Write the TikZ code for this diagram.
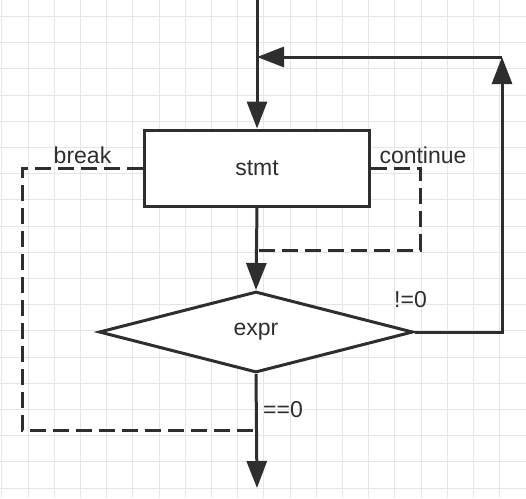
\documentclass[tikz,border=0pt]{standalone}
\usepackage{fontspec}
\setmainfont{Liberation Sans}
\usetikzlibrary{shapes.geometric, positioning, arrows.meta}
\definecolor{ink}{HTML}{2E2E2E}
\definecolor{gridgray}{HTML}{E6E6E6}

\begin{document}
\begin{tikzpicture}[x=1pt, y=-1pt, >={Triangle[length=27pt,width=20pt]},
    line/.style={ink, line width=3pt},
    jump/.style={ink, line width=3pt, dash pattern=on 16pt off 7pt},
    box/.style={draw=ink, line width=3pt, fill=white, minimum width=225pt,
        minimum height=76pt, inner sep=0pt, text=ink, font=\fontsize{23}{26}\selectfont},
    cond/.style={diamond, draw=ink, line width=3pt, fill=white, minimum width=314pt,
        minimum height=81pt, inner sep=0pt, text=ink, font=\fontsize{23}{26}\selectfont},
    lbl/.style={text=ink, font=\fontsize{23}{26}\selectfont, inner sep=0pt, anchor=base}]
    % 1. Nền và lưới
    \fill[white] (0,0) rectangle (526,498);
    \useasboundingbox (0,0) rectangle (526,498);
    \foreach \i in {0,...,19} {
        \draw[gridgray, line width=1pt] ({1.8+26.2*\i},0) -- ({1.8+26.2*\i},498);
    }
    \foreach \j in {0,...,18} {
        \draw[gridgray, line width=1pt] (0,{16.5+26.2*\j}) -- (526,{16.5+26.2*\j});
    }

    % 2. Khối lệnh và điều kiện
    \node[box] (stmt) at (257,168) {stmt};
    \node[cond] (expr) at (256,332) {expr};

    % 3. Các điểm phụ
    \coordinate (top) at (257,0);
    \coordinate (out) at (257,488);
    \coordinate (back) at (502,57);
    \coordinate (join) at (257,57);
    \coordinate (brkcorner) at (22,430);
    \coordinate (brkend) at (257,430);
    \coordinate (cntcorner) at (420,250);
    \coordinate (cntend) at (257,250);

    % 4. Luồng chính
    \draw[line,->] (top) -- (stmt.north);
    \draw[line,->] (stmt.south) -- (expr.north);
    \draw[line,->] (expr.south) -- (out);
    \draw[line,->] (expr.east) -| (back);
    \draw[line,->] (back) -- (join);

    % 5. break / continue
    \draw[jump] (stmt.west) -| (brkcorner) -- (brkend);
    \draw[jump] (stmt.east) -| (cntcorner) -- (cntend);

    % 6. Nhãn
    \node[lbl] (brklbl) at (82.5,163) {break};
    \node[lbl] (cntlbl) at (423,163) {continue};
    \node[lbl] (nelbl) at (410.5,307) {!=0};
    \node[lbl] (eqlbl) at (283,417) {==0};
\end{tikzpicture}
\end{document}
